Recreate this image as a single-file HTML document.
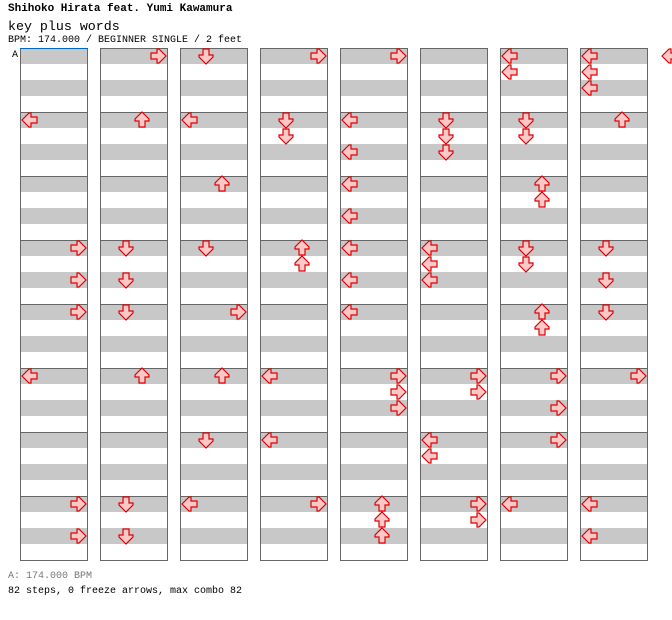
<!DOCTYPE html>
<html><head><meta charset="utf-8">
<style>
body{margin:0;background:#fff;width:672px;height:620px;overflow:hidden;position:relative;font-family:"Liberation Mono",monospace}
.t{position:absolute;left:8px;white-space:nowrap}
</style></head>
<body>
<div class="t" style="top:3px;font-size:11px;font-weight:bold">Shihoko Hirata feat. Yumi Kawamura</div>
<div class="t" style="top:19px;font-size:13.3px">key plus words</div>
<div class="t" style="top:35px;font-size:10px">BPM: 174.000 / BEGINNER SINGLE / 2 feet</div>
<div class="t" style="top:571px;font-size:10px;color:#777">A: 174.000 BPM</div>
<div class="t" style="top:586px;font-size:10px">82 steps, 0 freeze arrows, max combo 82</div>
<svg id="chart" width="672" height="620" style="position:absolute;left:0;top:0"></svg>
<script>
const columns=[0,1,2,3,4,5,6,7];
const measuresPerColumn=8;
const notes=[
[0,120,0],[0,248,3],[0,280,3],[0,312,3],[0,376,0],[0,504,3],[0,536,3],
[1,56,3],[1,120,2],[1,248,1],[1,280,1],[1,312,1],[1,376,2],[1,504,1],[1,536,1],
[2,56,1],[2,120,0],[2,184,2],[2,248,1],[2,312,3],[2,376,2],[2,440,1],[2,504,0],
[3,56,3],[3,120,1],[3,136,1],[3,248,2],[3,264,2],[3,376,0],[3,440,0],[3,504,3],
[4,56,3],[4,120,0],[4,152,0],[4,184,0],[4,216,0],[4,248,0],[4,280,0],[4,312,0],[4,376,3],[4,392,3],[4,408,3],[4,504,2],[4,520,2],[4,536,2],
[5,120,1],[5,136,1],[5,152,1],[5,248,0],[5,264,0],[5,280,0],[5,376,3],[5,392,3],[5,440,0],[5,456,0],[5,504,3],[5,520,3],
[6,56,0],[6,72,0],[6,120,1],[6,136,1],[6,184,2],[6,200,2],[6,248,1],[6,264,1],[6,312,2],[6,328,2],[6,376,3],[6,408,3],[6,440,3],[6,504,0],
[7,56,0],[7,72,0],[7,88,0],[7,120,2],[7,248,1],[7,280,1],[7,312,1],[7,376,3],[7,504,0],[7,536,0],
[8,56,0]
];
const NS="http://www.w3.org/2000/svg";
const svg=document.getElementById('chart');
const colX=c=>20+c*80;
const top0=48, measureH=64, bandH=16, colW=68;
function mk(t,a){const e=document.createElementNS(NS,t);for(const k in a)e.setAttribute(k,a[k]);svg.appendChild(e);return e;}
columns.forEach(c=>{
  const x=colX(c);
  for(let m=0;m<measuresPerColumn;m++){
    for(let b=0;b<4;b++){
      const r=mk('rect',{x:x,y:top0+m*measureH+b*bandH,width:colW,height:bandH,fill:b%2?'#fff':'#c8c8c8'});
      
      
    }
    const l=mk('line',{x1:x,x2:x+colW,y1:top0+m*measureH+0.5,y2:top0+m*measureH+0.5,stroke:'#666'});
    
    
  }
  const f=mk('rect',{x:x+0.5,y:top0+0.5,width:colW-1,height:measureH*measuresPerColumn,fill:'none',stroke:'#666'});
  
  
});
const bl=mk('line',{x1:20,x2:88,y1:48.5,y2:48.5,stroke:'#06c'});


const bt=mk('text',{x:12,y:57,'font-size':10,'font-family':'Liberation Mono, monospace'});
bt.textContent='A';


const rot=[0,-90,90,180];
notes.forEach(n=>{
  const cx=colX(n[0])+10+n[2]*16, cy=n[1];
  const p=mk('polygon',{points:'-8,0 -1,-7 1,-7 1,-3 7,-3 7,3 1,3 1,7 -1,7',fill:'#ffc8c8',stroke:'#d00','stroke-width':1.2,transform:`translate(${cx},${cy}) rotate(${rot[n[2]]})`});
  
  
});
</script>
</body></html>
